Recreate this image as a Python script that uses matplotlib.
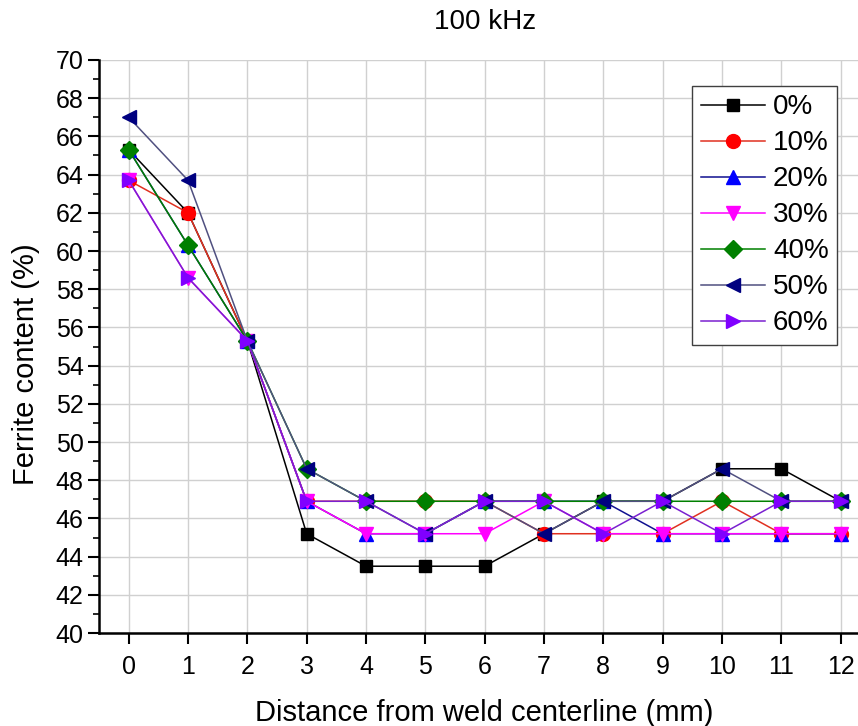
import matplotlib
matplotlib.use("Agg")
import matplotlib.pyplot as plt
from matplotlib.ticker import MultipleLocator

plt.rcParams["font.family"] = ["Liberation Sans", "DejaVu Sans"]

distance = list(range(13))
labels = ["0%", "10%", "20%", "30%", "40%", "50%", "60%"]

s0 = [65.3, 62.0, 55.3, 45.2, 43.5, 43.5, 43.5, 45.2, 46.9, 46.9, 48.6, 48.6, 46.9]
s10 = [63.7, 62.0, 55.3, 46.9, 46.9, 46.9, 46.9, 45.2, 45.2, 45.2, 46.9, 45.2, 45.2]
s20 = [65.3, 60.3, 55.3, 46.9, 45.2, 45.2, 46.9, 46.9, 46.9, 45.2, 45.2, 45.2, 45.2]
s30 = [63.7, 58.6, 55.3, 46.9, 45.2, 45.2, 45.2, 46.9, 45.2, 45.2, 45.2, 45.2, 45.2]
s40 = [65.3, 60.3, 55.3, 48.6, 46.9, 46.9, 46.9, 46.9, 46.9, 46.9, 46.9, 46.9, 46.9]
s50 = [67.0, 63.7, 55.3, 48.6, 46.9, 45.2, 46.9, 45.2, 46.9, 46.9, 48.6, 46.9, 46.9]
s60 = [63.7, 58.6, 55.3, 46.9, 46.9, 45.2, 46.9, 46.9, 45.2, 46.9, 45.2, 46.9, 46.9]

series = [s0, s10, s20, s30, s40, s50, s60]
markers = ["s", "o", "^", "v", "D", "<", ">"]
face_colors = ["#000000", "#ff0000", "#0000ff", "#ff00ff", "#008000", "#000080", "#8000ff"]
line_colors = ["#000000", "#e03020", "#101090", "#ff00ff", "#008000", "#505080", "#7a20d0"]
marker_sizes = [9, 10, 10, 10, 9, 10, 10]


def main():
    fig = plt.figure(figsize=(8.58, 7.26), dpi=100)
    ax = fig.add_axes([0.1154, 0.128, 0.899, 0.7894])

    for vals, lab, m, fc, lc, ms in zip(series, labels, markers, face_colors,
                                        line_colors, marker_sizes):
        ax.plot(distance, vals, color=lc, lw=1.1, marker=m, ms=ms,
                markerfacecolor=fc, markeredgecolor=fc, label=lab)

    ax.set_xlim(-0.5, 12.5)
    ax.set_ylim(40, 70)
    ax.xaxis.set_major_locator(MultipleLocator(1))
    ax.yaxis.set_major_locator(MultipleLocator(2))
    ax.yaxis.set_minor_locator(MultipleLocator(1))

    ax.grid(True, which="major", color="#d0d0d0", lw=1.0)
    ax.set_axisbelow(True)

    for side in ["top", "right"]:
        ax.spines[side].set_visible(False)
    for side in ["left", "bottom"]:
        ax.spines[side].set_linewidth(1.8)

    ax.tick_params(which="major", direction="out", length=8, width=1.5,
                   labelsize=18)
    ax.tick_params(axis="y", which="major", pad=3)
    ax.tick_params(axis="x", which="major", pad=8)
    ax.tick_params(which="minor", direction="out", length=4, width=1.2)

    ax.set_xlabel("Distance from weld centerline (mm)", fontsize=21, labelpad=14)
    ax.set_ylabel("Ferrite content (%)", fontsize=21)
    ax.yaxis.set_label_coords(-0.077, 0.47)
    ax.set_title("100 kHz", fontsize=20, pad=22)

    leg = ax.legend(loc="upper right", bbox_to_anchor=(0.9755, 0.8815),
                    bbox_transform=fig.transFigure, borderaxespad=0,
                    fontsize=20, labelspacing=0.36, handlelength=2.3,
                    handletextpad=0.3, fancybox=False, framealpha=1,
                    edgecolor="#404040", borderpad=0.3)
    leg.get_frame().set_linewidth(1.0)

    fig.savefig("out.png", dpi=100)
    plt.close(fig)


if __name__ == "__main__":
    main()
